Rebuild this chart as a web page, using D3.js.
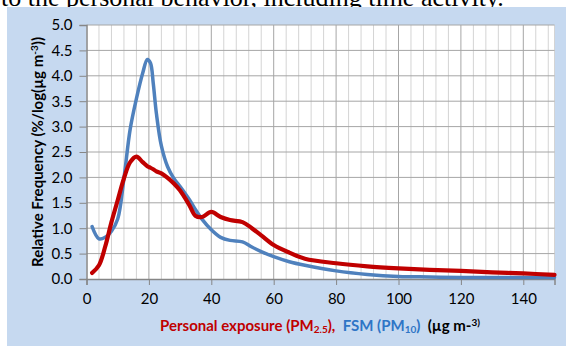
<!DOCTYPE html>
<html><head><meta charset="utf-8">
<script src="https://cdn.jsdelivr.net/npm/d3@7"></script>
<style>
html,body{margin:0;padding:0;background:#fff;}
svg{display:block;}
</style></head>
<body>
<svg id="chart" width="566" height="347"></svg>
<script>
// Data
const xValues = [1.8, 4, 6, 8, 10, 12, 14, 16, 18, 19.5, 20.5, 21.4, 22.4, 24, 26, 28, 30, 33, 35, 37, 40, 43, 46, 50, 53, 56, 60, 65, 70, 80, 90, 100, 110, 120, 130, 140, 150];
const fsmPM10 = [1.03,0.79,0.82,0.94,1.18,1.98,2.95,3.55,4.05,4.32,4.25,3.85,3.26,2.62,2.21,1.98,1.82,1.56,1.36,1.18,0.97,0.82,0.76,0.73,0.63,0.54,0.44,0.34,0.27,0.16,0.09,0.05,0.04,0.03,0.03,0.03,0.03];
const personalPM25 = [0.12,0.27,0.64,1.12,1.55,1.98,2.3,2.41,2.3,2.22,2.19,2.16,2.12,2.08,1.99,1.88,1.74,1.45,1.24,1.22,1.32,1.22,1.16,1.12,1.0,0.86,0.67,0.52,0.4,0.31,0.25,0.21,0.18,0.16,0.13,0.11,0.08];
const xTicks = [0, 20, 40, 60, 80, 100, 120, 140];
const yTicks = [0, 0.5, 1.0, 1.5, 2.0, 2.5, 3.0, 3.5, 4.0, 4.5, 5.0];

const svg = d3.select("#chart");
const FONT = "Lato, 'Open Sans', sans-serif";

// top cut-off text (continuation of a page above the chart)
svg.append("text").attr("x", 1).attr("y", 6)
  .attr("font-family", "'Liberation Serif', 'Times New Roman', serif")
  .attr("font-size", 26).attr("fill", "#000")
  .text("to the personal behavior, including time activity.");

// chart background
svg.append("rect").attr("x", 7).attr("y", 7).attr("width", 559).attr("height", 339).attr("fill", "#c6d9f0");

const L = 86.5, R = 554.5, T = 25, B = 279;
const x = d3.scaleLinear().domain([0, 150]).range([L, R]);
const y = d3.scaleLinear().domain([0, 5]).range([B, T]);

svg.append("rect").attr("x", L).attr("y", T).attr("width", R - L).attr("height", B - T).attr("fill", "#fff");

// minor vertical gridlines
const minor = d3.range(4, 150, 4).filter(v => v % 20 !== 0);
svg.append("g").selectAll("line").data(minor).join("line")
  .attr("x1", d => x(d)).attr("x2", d => x(d)).attr("y1", T).attr("y2", B)
  .attr("stroke", "#d4d4d4").attr("stroke-width", 1);
svg.append("line").attr("x1", R).attr("x2", R).attr("y1", T).attr("y2", B).attr("stroke", "#d4d4d4");
// major vertical gridlines
svg.append("g").selectAll("line").data(xTicks.filter(d => d > 0)).join("line")
  .attr("x1", d => x(d)).attr("x2", d => x(d)).attr("y1", T).attr("y2", B)
  .attr("stroke", "#a6a6a6").attr("stroke-width", 1);
// horizontal gridlines
svg.append("g").selectAll("line").data(yTicks.filter(d => d > 0)).join("line")
  .attr("x1", L).attr("x2", R).attr("y1", d => y(d)).attr("y2", d => y(d))
  .attr("stroke", "#a6a6a6").attr("stroke-width", 1);

// axes
const xAxis = d3.axisBottom(x).tickValues(xTicks).tickSize(6).tickPadding(8).tickFormat(d3.format("d"));
const gx = svg.append("g").attr("transform", `translate(0,${B})`).call(xAxis);
gx.select(".domain").attr("stroke", "#868686").attr("stroke-width", 1.5);
gx.selectAll(".tick line").attr("stroke", "#868686");
gx.selectAll("text").attr("font-family", FONT).attr("font-size", 15).attr("fill", "#000");

const yAxis = d3.axisLeft(y).tickValues(yTicks).tickSize(7).tickPadding(7).tickFormat(d3.format(".1f"));
const gy = svg.append("g").attr("transform", `translate(${L},0)`).call(yAxis);
gy.select(".domain").attr("stroke", "#868686").attr("stroke-width", 1.5);
gy.selectAll(".tick line").attr("stroke", "#868686");
gy.selectAll("text").attr("font-family", FONT).attr("font-size", 15).attr("fill", "#000");

// lines
const line = d3.line().x((d, i) => x(xValues[i])).y(d => y(d)).curve(d3.curveCatmullRom.alpha(0.5));
svg.append("path").datum(fsmPM10).attr("d", line).attr("fill", "none")
  .attr("stroke", "#4f81bd").attr("stroke-width", 3.5).attr("stroke-linejoin", "round").attr("stroke-linecap", "round");
svg.append("path").datum(personalPM25).attr("d", line).attr("fill", "none")
  .attr("stroke", "#c00000").attr("stroke-width", 4.2).attr("stroke-linejoin", "round").attr("stroke-linecap", "round");

// x title
const xt = svg.append("text").attr("x", 320).attr("y", 331).attr("text-anchor", "middle")
  .attr("font-family", FONT).attr("font-size", 15).attr("font-weight", "bold");
xt.append("tspan").attr("fill", "#c00000").text("Personal exposure (PM");
xt.append("tspan").attr("fill", "#c00000").attr("font-size", 10).attr("dy", 2).text("2.5");
xt.append("tspan").attr("fill", "#c00000").attr("dy", -2).text("),");
xt.append("tspan").attr("fill", "#2e75c6").text("\u00a0 FSM (PM");
xt.append("tspan").attr("fill", "#2e75c6").attr("font-size", 10).attr("dy", 2).text("10");
xt.append("tspan").attr("fill", "#2e75c6").attr("dy", -2).text(")");
xt.append("tspan").attr("fill", "#000").text("\u00a0 (µg m-");
xt.append("tspan").attr("fill", "#000").attr("font-size", 10).attr("dy", -5).text("3)");

// y title
const yt = svg.append("text").attr("transform", "translate(43,152) rotate(-90)").attr("text-anchor", "middle")
  .attr("font-family", FONT).attr("font-size", 15).attr("font-weight", "bold").attr("fill", "#000");
yt.append("tspan").text("Relative Frequency (%/log(µg m");
yt.append("tspan").attr("font-size", 10).attr("dy", -5).text("-3");
yt.append("tspan").attr("dy", 5).text("))");
</script>
</body></html>
